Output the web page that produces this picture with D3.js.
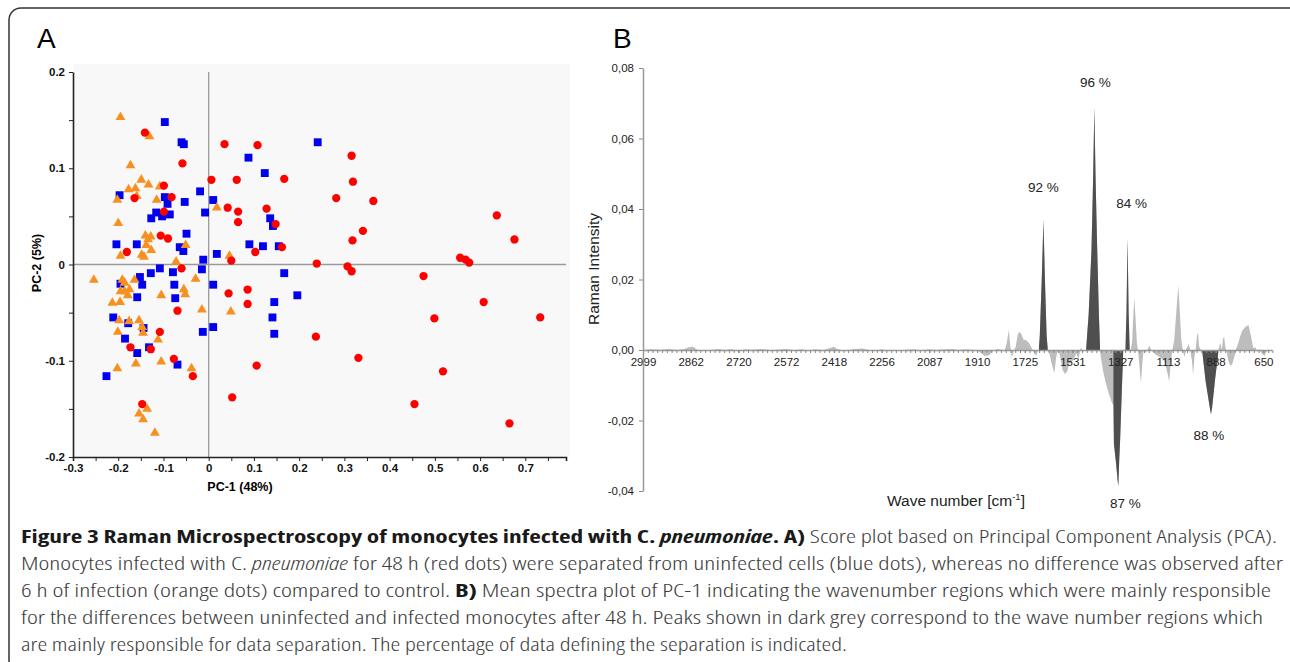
<!DOCTYPE html>
<html>
<head>
<meta charset="utf-8">
<script src="https://cdn.jsdelivr.net/npm/d3@7"></script>
<style>
  body { margin: 0; background: #fff; }
  svg { display: block; }
</style>
</head>
<body>
<div id="chart"></div>
<script>
// ---- panel A: PCA scores [PC-1, PC-2] ----
const infected48 = [
  [-0.141,0.137],[-0.058,0.105],[0.035,0.125],[0.108,0.124],[0.006,0.088],[0.062,0.088],[0.167,0.089],
  [0.316,0.113],[0.319,0.086],[0.282,0.069],[0.364,0.066],[-0.099,0.082],[-0.082,0.070],[-0.164,0.069],
  [-0.099,0.055],[0.042,0.059],[0.065,0.055],[0.065,0.044],[0.128,0.058],[0.148,0.042],[-0.106,0.030],
  [-0.090,0.027],[-0.181,0.013],[0.103,0.013],[0.162,0.018],[0.318,0.025],[0.341,0.035],[0.050,0.004],
  [-0.060,-0.004],[0.239,0.001],[0.307,-0.002],[0.316,-0.007],[0.044,-0.030],[0.086,-0.026],[0.086,-0.041],
  [-0.069,-0.048],[-0.108,-0.070],[0.237,-0.075],[-0.173,-0.086],[-0.128,-0.088],[-0.077,-0.098],
  [-0.035,-0.116],[0.106,-0.105],[0.052,-0.138],[-0.147,-0.145],[0.331,-0.097],[0.637,0.051],[0.676,0.026],
  [0.556,0.007],[0.568,0.005],[0.576,0.002],[0.475,-0.012],[0.608,-0.039],[0.499,-0.056],[0.733,-0.055],
  [0.518,-0.111],[0.455,-0.145],[0.665,-0.165]
];
const uninfected = [
  [-0.097,0.148],[-0.060,0.127],[-0.055,0.125],[0.088,0.111],[0.124,0.095],[0.241,0.127],[-0.197,0.072],
  [-0.097,0.070],[-0.091,0.063],[-0.127,0.048],[-0.116,0.054],[-0.103,0.050],[-0.086,0.052],[-0.053,0.065],
  [-0.019,0.076],[0.010,0.067],[-0.008,0.054],[-0.049,0.032],[-0.204,0.021],[-0.159,0.021],[-0.064,0.018],
  [-0.056,0.014],[0.090,0.021],[0.120,0.019],[0.155,0.019],[0.136,0.048],[0.142,0.040],[0.018,0.011],
  [-0.012,0.005],[-0.015,-0.005],[0.167,-0.009],[-0.108,-0.004],[-0.079,-0.008],[-0.128,-0.009],
  [-0.152,-0.013],[-0.147,-0.021],[-0.195,-0.020],[-0.076,-0.021],[0.010,-0.021],[-0.158,-0.034],
  [-0.074,-0.035],[0.196,-0.032],[0.145,-0.039],[0.141,-0.055],[0.145,-0.072],[-0.211,-0.055],
  [-0.178,-0.061],[-0.144,-0.066],[-0.185,-0.077],[-0.132,-0.086],[-0.158,-0.092],[-0.013,-0.070],
  [0.010,-0.065],[-0.069,-0.104],[-0.226,-0.116]
];
const infected6 = [
  [-0.195,0.153],[-0.131,0.133],[-0.173,0.103],[-0.149,0.088],[-0.177,0.078],[-0.162,0.079],[-0.159,0.071],
  [-0.133,0.083],[-0.108,0.081],[-0.202,0.067],[-0.115,0.067],[-0.200,0.043],[-0.140,0.030],[-0.128,0.029],
  [-0.134,0.026],[-0.138,0.020],[-0.127,0.015],[-0.195,0.009],[-0.148,0.010],[-0.143,0.008],[-0.051,0.020],
  [-0.072,0.003],[0.018,0.059],[0.046,0.009],[-0.254,-0.016],[-0.191,-0.016],[-0.186,-0.019],[-0.164,-0.016],
  [-0.029,-0.015],[-0.055,-0.026],[-0.052,-0.031],[-0.175,-0.026],[-0.195,-0.028],[-0.186,-0.028],
  [-0.179,-0.032],[-0.105,-0.032],[-0.213,-0.040],[-0.196,-0.039],[-0.015,-0.047],[0.049,-0.049],
  [-0.198,-0.058],[-0.176,-0.059],[-0.154,-0.058],[-0.147,-0.065],[-0.145,-0.071],[-0.201,-0.070],
  [-0.112,-0.078],[-0.161,-0.103],[-0.105,-0.101],[-0.202,-0.108],[-0.038,-0.108],[-0.154,-0.155],
  [-0.136,-0.150],[-0.145,-0.161],[-0.119,-0.175]
];
const pcaXTicks = d3.range(-0.3, 0.76, 0.05).map(d => Math.round(d * 100) / 100);
const pcaYTicks = d3.range(-0.2, 0.21, 0.05).map(d => Math.round(d * 100) / 100);

// ---- panel B: PC-1 loading spectrum [wavenumber, intensity] ----
const waveTicks = [2999, 2862, 2720, 2572, 2418, 2256, 2087, 1910, 1725, 1531, 1327, 1113, 888, 650];
const ramanTicks = [-0.04, -0.02, 0, 0.02, 0.04, 0.06, 0.08];
const spectrum = [
  [2999,0],[2975,0.0002],[2950,0.0001],[2925,0.0003],[2900,0],[2880,0.0003],[2868,0.0008],[2855,0.0009],
  [2845,0.0002],[2830,-0.0003],[2800,0.0001],[2780,0.0003],[2760,0],[2740,0.0003],[2720,-0.0004],
  [2700,0.0002],[2680,0.0001],[2650,0.0003],[2620,0],[2600,0.0001],[2572,0.0003],[2550,0],[2520,0.0002],
  [2500,-0.0002],[2480,0.0002],[2450,0],[2430,0.0006],[2418,0.0009],[2405,0.0002],[2380,-0.0002],
  [2350,0.0003],[2320,0.0004],[2300,0],[2280,-0.0002],[2256,0.0002],[2230,-0.0002],[2200,-0.0003],
  [2170,0.0001],[2140,0.0002],[2120,-0.0001],[2087,0.0002],[2060,0],[2030,0.0002],[2000,0.0003],
  [1980,0],[1950,0.0002],[1930,0.0001],[1910,0],[1901,-0.0005],[1880,-0.0017],[1862,-0.0015],
  [1850,-0.0003],[1830,0.0003],[1812,0],[1804,-0.0005],[1795,0.002],[1787,0.0057],[1781,0.001],
  [1775,-0.0022],[1768,-0.0005],[1760,0.001],[1752,0.0045],[1746,0.0052],[1738,0.0045],[1730,0.003],
  [1720,0.0028],[1710,0.0022],[1700,0.001],[1692,0],[1685,-0.0012],[1678,-0.0015],[1670,0],
  [1668,0],[1664,0.004],[1656,0.02],[1649,0.0369],[1643,0.02],[1636,0.004],[1631,0],
  [1625,-0.001],[1615,-0.004],[1605,-0.0066],[1597,-0.002],[1590,0],[1582,-0.0015],[1572,-0.0055],
  [1562,-0.0068],[1552,-0.006],[1545,-0.004],[1535,-0.0035],[1525,-0.0025],[1515,-0.001],[1505,-0.0025],
  [1495,0.0008],[1486,-0.0005],[1476,0],
  [1473,0],[1462,0.01],[1450,0.028],[1443,0.048],[1437.5,0.0688],[1432,0.048],[1425,0.028],[1418,0.01],[1413,0],
  [1410,-0.002],[1400,-0.006],[1388,-0.0095],[1375,-0.0125],[1362,-0.015],[1357,-0.0155],
  [1354,-0.0265],[1345,-0.032],[1338,-0.037],[1335,-0.0386],[1331,-0.031],[1327,-0.025],[1320,-0.012],[1313,0],
  [1304,0],[1299,0.01],[1294,0.0317],[1289,0.01],[1284,0],
  [1280,0],[1274,0.002],[1268,0.01],[1264,0.0149],[1259,0.01],[1252,0.002],[1247,0],[1240,-0.005],
  [1234,-0.0095],[1228,-0.004],[1222,0],[1212,-0.0008],[1196,0.0012],[1188,0],[1170,-0.0012],[1150,-0.002],
  [1130,-0.003],[1115,-0.0065],[1107,-0.009],[1100,-0.004],[1092,0],[1083,0.003],[1072,0.012],[1064,0.0184],
  [1058,0.012],[1050,0.003],[1043,0],[1035,-0.002],[1025,0.0005],[1015,0.0017],[1008,0],[1000,-0.003],
  [994,-0.007],[988,-0.002],[982,0],[976,0.004],[971,0.005],[966,0.001],[958,0],
  [952,0],[935,-0.009],[915,-0.0165],[910,-0.0182],[905,-0.0165],[890,-0.008],[873,0],
  [868,0.0015],[864,0.002],[858,0],[850,0.0035],[845,0.0036],[840,0.001],[832,-0.001],[825,-0.003],
  [815,-0.0045],[805,-0.004],[795,-0.002],[785,0.0005],[775,0.002],[765,0.004],[755,0.0055],[740,0.0065],
  [724,0.0071],[712,0.004],[700,0.0005],[690,0.0008],[680,-0.0005],[670,0.0003],[660,-0.0008],
  [645,-0.0018],[635,-0.0005],[622,0],[605,0]
];
// wavenumber regions responsible for the separation (dark grey)
const darkRanges = [[1668,1631],[1473,1413],[1356,1313],[1304,1284],[952,873]];
const peakNotes = [
  {text: "92 %", wn: 1649}, {text: "96 %", wn: 1437.5}, {text: "84 %", wn: 1294},
  {text: "87 %", wn: 1335}, {text: "88 %", wn: 910}
];

const captionLines = [
  [["b","Figure 3 Raman Microspectroscopy of monocytes infected with C. "],["bi","pneumoniae"],["b",". A)"],["n"," Score plot based on Principal Component Analysis (PCA)."]],
  [["n","Monocytes infected with C. "],["i","pneumoniae"],["n"," for 48 h (red dots) were separated from uninfected cells (blue dots), whereas no difference was observed after"]],
  [["n","6 h of infection (orange dots) compared to control. "],["b","B)"],["n"," Mean spectra plot of PC-1 indicating the wavenumber regions which were mainly responsible"]],
  [["n","for the differences between uninfected and infected monocytes after 48 h. Peaks shown in dark grey correspond to the wave number regions which"]],
  [["n","are mainly responsible for data separation. The percentage of data defining the separation is indicated."]]
];

const width = 1290, height = 662;
const svg = d3.select("#chart").append("svg")
  .attr("width", width).attr("height", height);

// frame
svg.append("rect")
  .attr("x", 9).attr("y", 8).attr("width", 1300).attr("height", 664).attr("rx", 12)
  .attr("fill", "none").attr("stroke", "#333").attr("stroke-width", 1.5);

const arial = "Liberation Sans, Arial, Helvetica, sans-serif";

// panel letters
svg.append("text").text("A").attr("x", 37).attr("y", 48)
  .attr("font-family", arial).attr("font-size", 28);
svg.append("text").text("B").attr("x", 613).attr("y", 48)
  .attr("font-family", arial).attr("font-size", 28);

// ================= Panel A =================
const xA = d3.scaleLinear().domain([-0.3, 0.79]).range([73, 566]);
const yA = d3.scaleLinear().domain([-0.2, 0.2]).range([457, 72]);
const fmtA = d => (Math.abs(Math.round(d * 100) % 10) === 0) ? String(Math.round(d * 10) / 10) : "";

const gA = svg.append("g");

// plot background
gA.append("rect")
  .attr("x", xA(-0.3)).attr("y", 64).attr("width", xA(0.79) - xA(-0.3) + 4).attr("height", yA(-0.2) - 64)
  .attr("fill", "#f8f8f8");

// crosshair at origin
gA.append("line")
  .attr("x1", xA(0)).attr("x2", xA(0)).attr("y1", yA(0.2)).attr("y2", yA(-0.2))
  .attr("stroke", "#9a9a9a").attr("stroke-width", 1.3);
gA.append("line")
  .attr("x1", xA(-0.3)).attr("x2", xA(0.79)).attr("y1", yA(0)).attr("y2", yA(0))
  .attr("stroke", "#9a9a9a").attr("stroke-width", 1.3);

// axes
const xAxisA = gA.append("g")
  .attr("transform", `translate(0,${yA(-0.2)})`)
  .call(d3.axisBottom(xA).tickValues(pcaXTicks).tickFormat(fmtA).tickSize(4).tickSizeOuter(4).tickPadding(3));
const yAxisA = gA.append("g")
  .attr("transform", `translate(${xA(-0.3)},0)`)
  .call(d3.axisLeft(yA).tickValues(pcaYTicks).tickFormat(fmtA).tickSize(4).tickSizeOuter(0).tickPadding(4));
[xAxisA, yAxisA].forEach(g => {
  g.select(".domain").attr("stroke", "#222").attr("stroke-width", 1.6);
  g.selectAll(".tick line").attr("stroke", "#222");
  g.selectAll(".tick text").attr("font-family", arial).attr("font-size", 11.5)
    .attr("font-weight", "bold").attr("fill", "#111");
});

// axis titles
gA.append("text").text("PC-1 (48%)")
  .attr("x", 240).attr("y", 491).attr("text-anchor", "middle")
  .attr("font-family", arial).attr("font-size", 12.5).attr("font-weight", "bold");
gA.append("text").text("PC-2 (5%)")
  .attr("transform", `translate(41,${263}) rotate(-90)`).attr("text-anchor", "middle")
  .attr("font-family", arial).attr("font-size", 12.5).attr("font-weight", "bold");

// markers
const groups = [
  {data: uninfected, shape: d3.symbolSquare, size: 62, color: "#0000ee"},
  {data: infected6, shape: d3.symbolTriangle, size: 42, color: "#f7901e"},
  {data: infected48, shape: d3.symbolCircle, size: 54, color: "#ff0000"}
];
groups.forEach(grp => {
  gA.append("g").selectAll("path")
    .data(grp.data)
    .join("path")
    .attr("transform", d => `translate(${xA(d[0])},${yA(d[1])})`)
    .attr("d", d3.symbol().type(grp.shape).size(grp.size))
    .attr("fill", grp.color);
});

// ================= Panel B =================
const step = 47.72, x0 = 643;
const xB = d3.scaleLinear().domain(waveTicks).range(waveTicks.map((d, i) => x0 + i * step));
const yB = d3.scaleLinear().domain([-0.04, 0.08]).range([491, 68]);
const gB = svg.append("g");

const area = d3.area()
  .x(d => xB(d[0]))
  .y0(yB(0))
  .y1(d => yB(d[1]));

// light grey full spectrum
gB.append("path").datum(spectrum)
  .attr("d", area).attr("fill", "#bdbdbd");

// dark grey separating peaks via clip
const clip = svg.append("defs").append("clipPath").attr("id", "darkClip");
clip.selectAll("rect").data(darkRanges).join("rect")
  .attr("x", d => xB(d[0])).attr("width", d => xB(d[1]) - xB(d[0]))
  .attr("y", yB(0.08)).attr("height", yB(-0.04) - yB(0.08));
gB.append("path").datum(spectrum)
  .attr("d", area).attr("fill", "#4f4f4f").attr("clip-path", "url(#darkClip)");

// minor wavenumber ticks (ten per labelled interval)
const minorTicks = [];
for (let i = 0; i < waveTicks.length - 1; i++) {
  for (let j = 0; j < 10; j++) minorTicks.push(waveTicks[i] + (waveTicks[i + 1] - waveTicks[i]) * j / 10);
}
minorTicks.push(650, 626, 605);

const xAxisB = gB.append("g")
  .attr("transform", `translate(0,${yB(0)})`)
  .call(d3.axisBottom(xB).tickValues(minorTicks).tickFormat("").tickSize(3).tickSizeOuter(0));
xAxisB.select(".domain").attr("d", `M${x0},0.5H${xB(605)}`);
const xLabB = gB.append("g")
  .attr("transform", `translate(0,${yB(0)})`)
  .call(d3.axisBottom(xB).tickValues(waveTicks).tickSize(3).tickPadding(5).tickFormat(d3.format("d")));
xLabB.select(".domain").remove();

const yAxisB = gB.append("g")
  .attr("transform", `translate(${x0},0)`)
  .call(d3.axisLeft(yB).tickValues(ramanTicks).tickSize(4).tickSizeOuter(0).tickPadding(5)
    .tickFormat(d => d3.format(".2f")(d).replace("\u2212", "-").replace(".", ",")));

[xAxisB, xLabB, yAxisB].forEach(g => {
  g.select(".domain").attr("stroke", "#999").attr("stroke-width", 1.5);
  g.selectAll(".tick line").attr("stroke", "#8a8a8a");
  g.selectAll(".tick text").attr("font-family", arial).attr("font-size", 11.5).attr("fill", "#222");
});

// axis titles
gB.append("text").text("Raman Intensity")
  .attr("transform", `translate(599,269) rotate(-90)`).attr("text-anchor", "middle")
  .attr("font-family", arial).attr("font-size", 15.5).attr("fill", "#222");
const wt = gB.append("text").attr("x", 887).attr("y", 506)
  .attr("font-family", arial).attr("font-size", 15.5).attr("fill", "#222");
wt.append("tspan").text("Wave number [cm");
wt.append("tspan").text("-1").attr("font-size", 9.5).attr("dy", -6);
wt.append("tspan").text("]").attr("dy", 6);

// peak percentages
const noteOffset = [[0, -28], [1, -20], [4, -30], [7, 22], [-2, 26]];
const valueAt = wn => spectrum.find(d => d[0] === wn)[1];
gB.selectAll(".note").data(peakNotes).join("text")
  .attr("class", "note")
  .attr("x", (d, i) => xB(d.wn) + noteOffset[i][0])
  .attr("y", (d, i) => yB(valueAt(d.wn)) + noteOffset[i][1])
  .attr("text-anchor", "middle")
  .attr("font-family", arial).attr("font-size", 13.5).attr("fill", "#222")
  .text(d => d.text);

// ================= Caption =================
const capFont = "'Open Sans', 'Liberation Sans Narrow', sans-serif";
const lineEnds = [1277, 1283, 1271, 1263, 847];
const cap = svg.append("g");
captionLines.forEach((parts, i) => {
  const t = cap.append("text")
    .attr("x", 21).attr("y", 543 + i * 27)
    .attr("font-family", capFont).attr("font-size", 18)
    .style("font-stretch", "75%")
    .attr("textLength", lineEnds[i] - 21).attr("lengthAdjust", "spacingAndGlyphs");
  parts.forEach(([style, str]) => {
    t.append("tspan").text(str)
      .attr("font-weight", style.includes("b") ? "bold" : 300)
      .attr("font-style", style.includes("i") ? "italic" : "normal")
      .attr("fill", style.includes("b") ? "#1a1a1a" : "#3c3c3c");
  });
});
</script>
</body>
</html>
